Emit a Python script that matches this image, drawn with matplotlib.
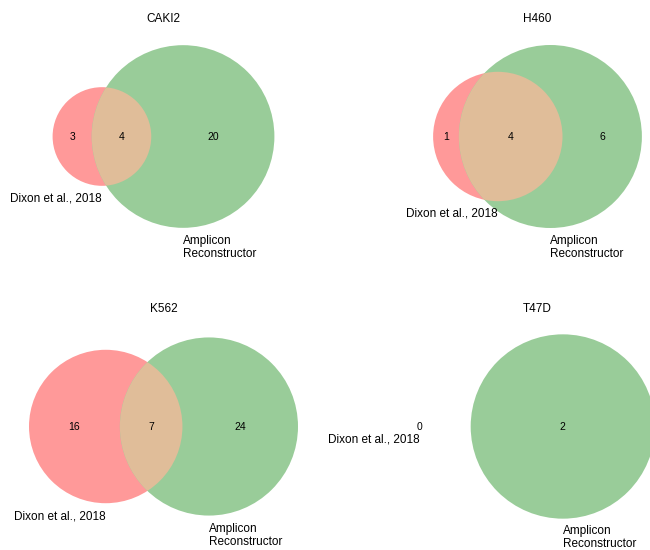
import numpy as np
import matplotlib
matplotlib.use("Agg")
import matplotlib.pyplot as plt
from matplotlib.patches import Circle

plt.rcParams['font.family'] = ['Liberation Sans', 'DejaVu Sans']

# counts per cell line: (Dixon only, AR only, shared)
cell_lines = ['CAKI2', 'H460', 'K562', 'T47D']
dixon_only = [3, 1, 16, 0]
ar_only = [20, 6, 24, 2]
shared = [4, 4, 7, 0]
set_labels = ['Dixon et al., 2018', 'Amplicon\nReconstructor']

col_a = (1.0, 0.6, 0.6)      # red, alpha .4 on white
col_b = (0.6, 0.8, 0.6)      # green, alpha .4 on white
col_ab = (0.88, 0.74, 0.6)   # mixed

FIG_W, FIG_H = 650, 550
col_x = [163.5, 537.5]
row_y = [136.5, 426.5]
BOX_W, BOX_H = 340, 217
NUM_FS = 7.5
LBL_FS = 8.5


def lens_area(r1, r2, d):
    if d >= r1 + r2:
        return 0.0
    if d <= abs(r1 - r2):
        return np.pi * min(r1, r2) ** 2
    a1 = r1 ** 2 * np.arccos((d * d + r1 * r1 - r2 * r2) / (2 * d * r1))
    a2 = r2 ** 2 * np.arccos((d * d + r2 * r2 - r1 * r1) / (2 * d * r2))
    k = np.sqrt((-d + r1 + r2) * (d + r1 - r2) * (d - r1 + r2) * (d + r1 + r2))
    return a1 + a2 - 0.5 * k


def venn_layout(a, b, ab):
    tot = float(a + b + ab)
    ra = np.sqrt((a + ab) / tot / np.pi)
    rb = np.sqrt((b + ab) / tot / np.pi)
    target = ab / tot
    if target <= 0:
        d = ra + rb + max(np.mean([ra, rb]) * 1.1, 0.2)
    else:
        lo, hi = abs(ra - rb), ra + rb
        for _ in range(60):
            mid = (lo + hi) / 2
            if lens_area(ra, rb, mid) > target:
                lo = mid
            else:
                hi = mid
        d = (lo + hi) / 2
    return ra, rb, d


def draw_venn(ax, a, b, ab, title):
    ra, rb, d = venn_layout(a, b, ab)
    ca, cb = 0.0, d
    if ra > 0:
        ax.add_patch(Circle((ca, 0), ra, fc=col_a, ec='none'))
    ax.add_patch(Circle((cb, 0), rb, fc=col_b, ec='none'))
    overlap = ab > 0 and d < ra + rb
    if overlap:
        inter = Circle((ca, 0), ra, fc=col_ab, ec='none')
        ax.add_patch(inter)
        clip = Circle((cb, 0), rb, transform=ax.transData)
        inter.set_clip_path(clip)
        xa = ((ca - ra) + (cb - rb)) / 2
        xab = ((cb - rb) + (ca + ra)) / 2
        xb = ((ca + ra) + (cb + rb)) / 2
        ax.text(xa, 0, str(a), ha='center', va='center', fontsize=NUM_FS)
        ax.text(xab, 0, str(ab), ha='center', va='center', fontsize=NUM_FS)
        ax.text(xb, 0, str(b), ha='center', va='center', fontsize=NUM_FS)
    else:
        ax.text(ca, 0, str(a), ha='center', va='center', fontsize=NUM_FS)
        ax.text(cb, 0, str(b), ha='center', va='center', fontsize=NUM_FS)

    ax.text(ca, -ra - 0.04, set_labels[0], ha='right', va='top', fontsize=LBL_FS)
    ax.text(cb, -rb - 0.04, set_labels[1], ha='left', va='top', fontsize=LBL_FS,
            linespacing=1.1)

    rmax = max(ra, rb)
    ax.set_xlim(min(ca - ra, cb - rb) - 0.1, max(ca + ra, cb + rb) + 0.1)
    ax.set_ylim(-rmax - 0.1, rmax + 0.1)
    ax.set_aspect('equal')
    ax.set_axis_off()
    ax.set_title(title, fontsize=LBL_FS, pad=4.5)


fig = plt.figure(figsize=(FIG_W / 100, FIG_H / 100), dpi=100)
for i, name in enumerate(cell_lines):
    r, c = divmod(i, 2)
    left = (col_x[c] - BOX_W / 2) / FIG_W
    bottom = (FIG_H - row_y[r] - BOX_H / 2) / FIG_H
    ax = fig.add_axes([left, bottom, BOX_W / FIG_W, BOX_H / FIG_H])
    draw_venn(ax, dixon_only[i], ar_only[i], shared[i], name)

fig.savefig('out.png', dpi=100)
